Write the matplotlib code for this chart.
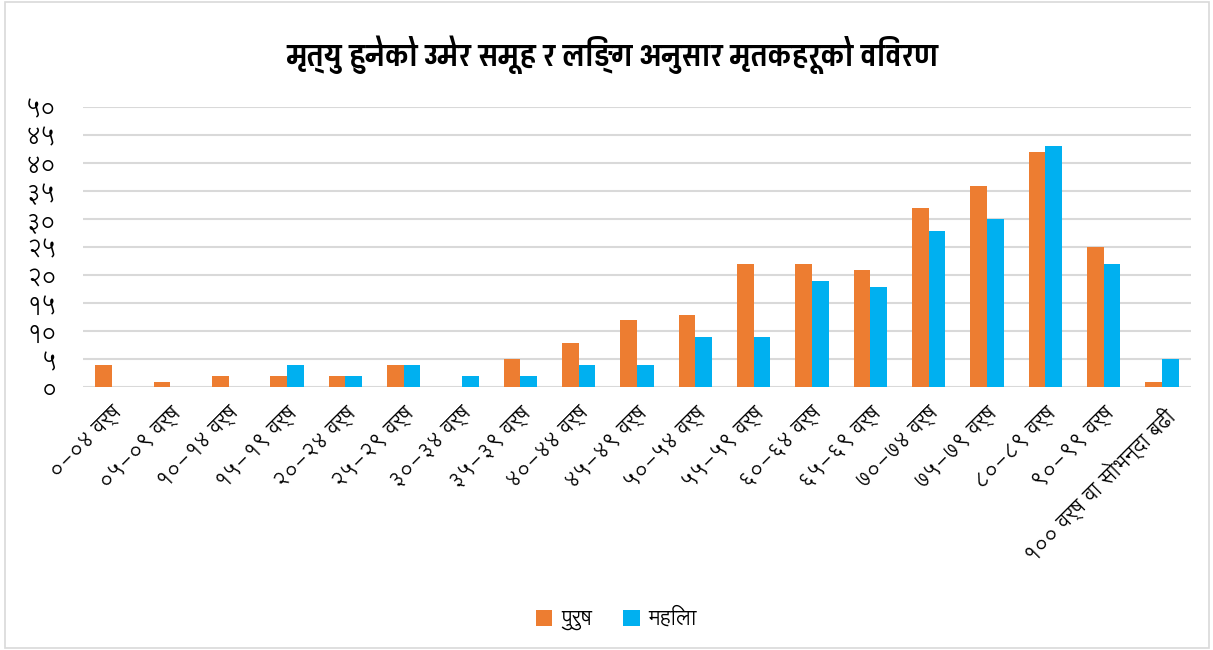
import numpy as np
import matplotlib
matplotlib.use("Agg")
import matplotlib.pyplot as plt
from matplotlib import font_manager
from matplotlib.patches import Rectangle, Patch

# ---------------- data ----------------
categories = ["०-०४ वर्ष", "०५-०९ वर्ष", "१०-१४ वर्ष", "१५-१९ वर्ष", "२०-२४ वर्ष",
              "२५-२९ वर्ष", "३०-३४ वर्ष", "३५-३९ वर्ष", "४०-४४ वर्ष", "४५-४९ वर्ष",
              "५०-५४ वर्ष", "५५-५९ वर्ष", "६०-६४ वर्ष", "६५-६९ वर्ष", "७०-७४ वर्ष",
              "७५-७९ वर्ष", "८०-८९ वर्ष", "९०-९९ वर्ष", "१०० वर्ष वा सोभन्दा बढी"]
male = [4, 1, 2, 2, 2, 4, 0, 5, 8, 12, 13, 22, 22, 21, 32, 36, 42, 25, 1]
female = [0, 0, 0, 4, 2, 4, 2, 2, 4, 4, 9, 9, 19, 18, 28, 30, 43, 22, 5]
ytick_values = [0, 5, 10, 15, 20, 25, 30, 35, 40, 45, 50]
ytick_labels = ["०", "५", "१०", "१५", "२०", "२५", "३०", "३५", "४०", "४५", "५०"]
series_names = ["पुरुष", "महिला"]
title = "मृत्यु हुनेको उमेर समूह र लिङ्ग अनुसार मृतकहरूको विवरण"

# ---------------- fonts ----------------
installed = set(fe.name for fe in font_manager.fontManager.ttflist)

def pick(*names):
    for n in names:
        if n in installed:
            return [n, "DejaVu Sans"]
    return ["DejaVu Sans"]

body_font = pick("Lohit Devanagari", "Noto Sans Devanagari", "FreeSans")
title_font = pick("Pragati Narrow", "Khand", "Noto Sans Devanagari", "FreeSans")
plt.rcParams['font.family'] = body_font

orange = "#ED7D31"
blue = "#00B0F0"
grid_color = "#D9D9D9"

fig = plt.figure(figsize=(12.13, 6.5), dpi=100)
fig.patches.append(Rectangle((0.004, 0.003), 0.993, 0.994, transform=fig.transFigure,
                             fill=False, edgecolor="#D9D9D9", linewidth=1.2))

ax = fig.add_axes([0.0684, 0.404, 0.9136, 0.431])
x = np.arange(len(categories))
w = 0.286
ax.bar(x - w / 2, male, width=w, color=orange, zorder=3)
ax.bar(x + w / 2, female, width=w, color=blue, zorder=3)

ax.set_xlim(-0.5, len(categories) - 0.5)
ax.set_ylim(0, 50)
ax.set_yticks(ytick_values)
ax.set_yticklabels(ytick_labels, fontsize=17, color="#000000")
ax.yaxis.grid(True, color=grid_color, linewidth=1.5, zorder=0)
ax.set_axisbelow(True)
for s in ax.spines.values():
    s.set_visible(False)
ax.tick_params(axis="both", length=0)
ax.tick_params(axis="y", pad=19)

ax.set_xticks(x)
ax.set_xticklabels(categories, rotation=45, ha="right", rotation_mode="anchor",
                   fontsize=15, color="#000000")
ax.tick_params(axis="x", pad=11)

fig.text(0.505, 0.915, title, ha="center", va="center", fontsize=24, fontweight="bold",
         family=title_font)

handles = [Patch(facecolor=orange, label=series_names[0]),
           Patch(facecolor=blue, label=series_names[1])]
fig.legend(handles=handles, loc="center", bbox_to_anchor=(0.508, 0.048), ncol=2,
           frameon=False, fontsize=15, handlelength=0.8, handleheight=0.8,
           columnspacing=1.5, handletextpad=0.4)

fig.savefig("out.png", dpi=100)
